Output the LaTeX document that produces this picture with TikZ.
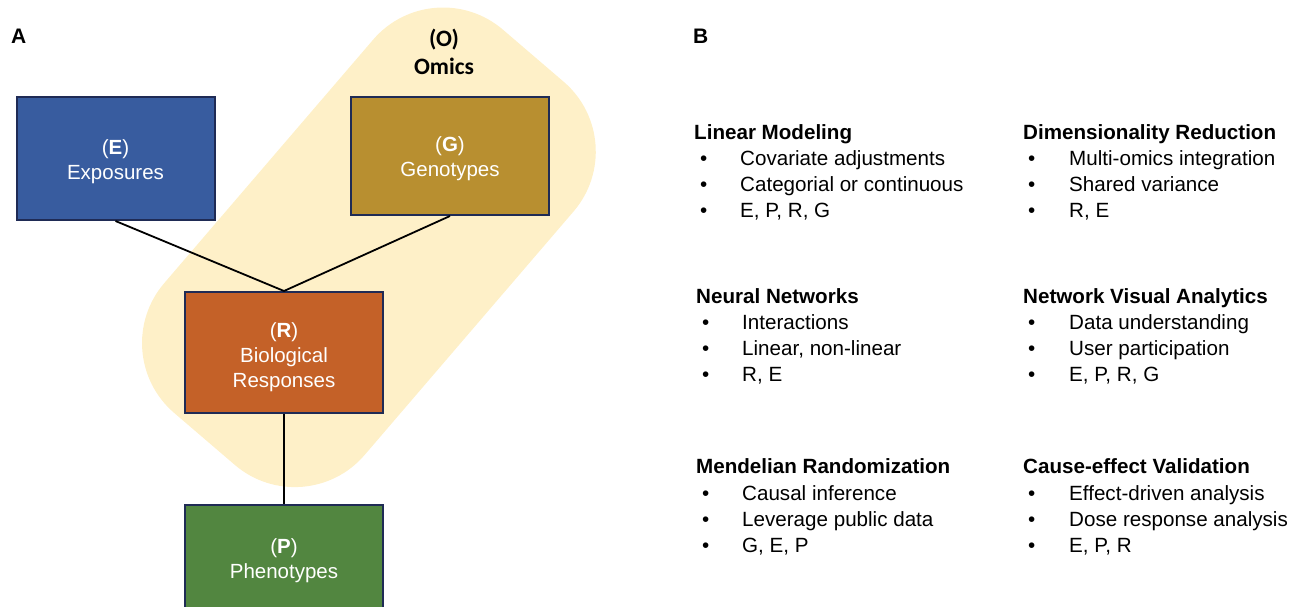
\documentclass[tikz,border=0pt]{standalone}
\usepackage{fontspec}
\setmainfont{Liberation Sans}
\newfontfamily\omicsfont{Carlito}
\definecolor{expblue}{HTML}{385C9F}
\definecolor{genogold}{HTML}{B88F30}
\definecolor{resporange}{HTML}{C46128}
\definecolor{phengreen}{HTML}{528640}
\definecolor{navy}{HTML}{1F2B55}
\definecolor{omicsyellow}{HTML}{FEF0C8}
\tikzset{
  box/.style={draw=navy, line width=2pt, inner sep=0pt, minimum width=198pt},
  boxtext/.style={text=white, align=center, inner sep=0pt, font=\fontsize{20.5}{25}\selectfont},
  link/.style={draw=black, line width=1.8pt},
  head/.style={anchor=base west, inner sep=0pt, font=\bfseries\fontsize{20.6}{24}\selectfont},
  item/.style={anchor=base west, inner sep=0pt, font=\fontsize{20.6}{24}\selectfont},
  panel/.style={anchor=base west, inner sep=0pt, font=\bfseries\fontsize{21}{24}\selectfont},
}
\begin{document}
\begin{tikzpicture}[x=1pt,y=-1pt]
\useasboundingbox (0,0) rectangle (1290,606);
\clip (0,0) rectangle (1290,606);
% omics band (rotated rounded rectangle)
\coordinate (o1) at (433.1,-30.2);
\coordinate (o2) at (633.5,141.6);
\coordinate (o3) at (304.7,524.8);
\coordinate (o4) at (104.3,353.0);
\fill[omicsyellow, rounded corners=92pt] (o1) -- (o2) -- (o3) -- (o4) -- cycle;
\node[inner sep=0pt, align=center, font=\omicsfont\bfseries\fontsize{23.5}{28}\selectfont] (O) at (444,52) {(O)\\Omics};
% panel labels
\node[panel] (A) at (11,43) {A};
\node[panel] (B) at (693,43) {B};
% boxes
\node[box, fill=expblue, minimum height=123pt] (E) at (115.5,158.5) {};
\node[box, fill=genogold, minimum height=118pt] (G) at (450,156) {};
\node[box, fill=resporange, minimum height=121pt] (R) at (284,352.5) {};
\node[box, fill=phengreen, minimum height=107pt] (P) at (284,558.5) {};
\node[boxtext] (Et) at (115.5,161.5) {(\textbf{E})\\Exposures};
\node[boxtext] (Gt) at (450,159) {(\textbf{G})\\Genotypes};
\node[boxtext] (Rt) at (284,357) {(\textbf{R})\\Biological\\Responses};
\node[boxtext] (Pt) at (284,560.5) {(\textbf{P})\\Phenotypes};
% connectors
\draw[link] (E.south) -- (R.north);
\draw[link] (G.south) -- (R.north);
\draw[link] (R.south) -- (P.north);
% right panel, row 1
\node[head] (h1) at (694,139.5) {Linear Modeling};
\node[item] (b11) at (700,165) {•}; \node[item] (t11) at (740,165) {Covariate adjustments};
\node[item] (b12) at (700,191) {•}; \node[item] (t12) at (740,191) {Categorial or continuous};
\node[item] (b13) at (700,217) {•}; \node[item] (t13) at (740,217) {E, P, R, G};
\node[head] (h2) at (1023,139.5) {Dimensionality Reduction};
\node[item] (b21) at (1028,165) {•}; \node[item] (t21) at (1069,165) {Multi-omics integration};
\node[item] (b22) at (1028,191) {•}; \node[item] (t22) at (1069,191) {Shared variance};
\node[item] (b23) at (1028,217) {•}; \node[item] (t23) at (1069,217) {R, E};
% row 2
\node[head] (h3) at (696,303.5) {Neural Networks};
\node[item] (b31) at (702,329) {•}; \node[item] (t31) at (742,329) {Interactions};
\node[item] (b32) at (702,355) {•}; \node[item] (t32) at (742,355) {Linear, non-linear};
\node[item] (b33) at (702,381) {•}; \node[item] (t33) at (742,381) {R, E};
\node[head] (h4) at (1023,303.5) {Network Visual Analytics};
\node[item] (b41) at (1028,329) {•}; \node[item] (t41) at (1069,329) {Data understanding};
\node[item] (b42) at (1028,355) {•}; \node[item] (t42) at (1069,355) {User participation};
\node[item] (b43) at (1028,381) {•}; \node[item] (t43) at (1069,381) {E, P, R, G};
% row 3
\node[head] (h5) at (696,473.5) {Mendelian Randomization};
\node[item] (b51) at (702,500) {•}; \node[item] (t51) at (742,500) {Causal inference};
\node[item] (b52) at (702,526) {•}; \node[item] (t52) at (742,526) {Leverage public data};
\node[item] (b53) at (702,552) {•}; \node[item] (t53) at (742,552) {G, E, P};
\node[head] (h6) at (1023,473.5) {Cause-effect Validation};
\node[item] (b61) at (1028,500) {•}; \node[item] (t61) at (1069,500) {Effect-driven analysis};
\node[item] (b62) at (1028,526) {•}; \node[item] (t62) at (1069,526) {Dose response analysis};
\node[item] (b63) at (1028,552) {•}; \node[item] (t63) at (1069,552) {E, P, R};
\end{tikzpicture}
\end{document}
